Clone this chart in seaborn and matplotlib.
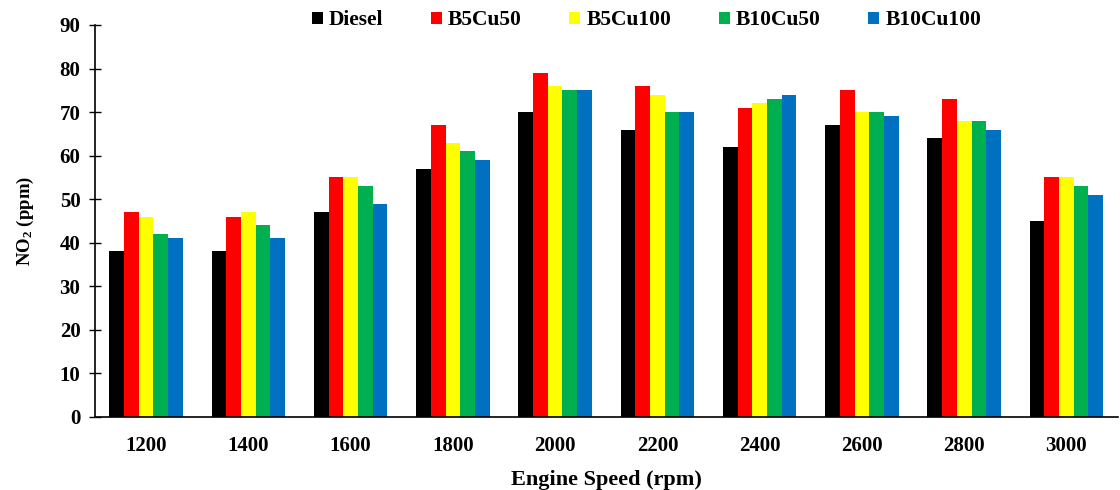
import matplotlib
matplotlib.use("Agg")
import matplotlib.pyplot as plt
import seaborn as sns
import pandas as pd
import numpy as np

speeds = ["1200", "1400", "1600", "1800", "2000", "2200", "2400", "2600", "2800", "3000"]
fuels = ["Diesel", "B5Cu50", "B5Cu100", "B10Cu50", "B10Cu100"]
diesel = [38, 38, 47, 57, 70, 66, 62, 67, 64, 45]
b5cu50 = [47, 46, 55, 67, 79, 76, 71, 75, 73, 55]
b5cu100 = [46, 47, 55, 63, 76, 74, 72, 70, 68, 55]
b10cu50 = [42, 44, 53, 61, 75, 70, 73, 70, 68, 53]
b10cu100 = [41, 41, 49, 59, 75, 70, 74, 69, 66, 51]
colors = ["#000000", "#FF0000", "#FFFF00", "#00B050", "#0070C0"]

series = [diesel, b5cu50, b5cu100, b10cu50, b10cu100]
rows = []
for f, vals in zip(fuels, series):
    for s, v in zip(speeds, vals):
        rows.append({"Speed": s, "Fuel": f, "NO2": v})
df = pd.DataFrame(rows)

sns.set_theme(style="white")
plt.rcParams['font.family'] = ['Liberation Serif', 'DejaVu Serif']
plt.rcParams['font.weight'] = 'bold'
plt.rcParams['mathtext.default'] = 'regular'
plt.rcParams['text.color'] = 'black'
plt.rcParams['axes.labelcolor'] = 'black'
plt.rcParams['xtick.color'] = 'black'
plt.rcParams['ytick.color'] = 'black'

fig = plt.figure(figsize=(11.2, 4.9), dpi=100)
ax = fig.add_axes([0.0848, 0.149, 0.913, 0.800])

sns.barplot(data=df, x="Speed", y="NO2", hue="Fuel", order=speeds, hue_order=fuels,
            palette=colors, width=0.72, linewidth=0, saturation=1, ax=ax)

ax.set_ylim(0, 90)
ax.set_yticks(np.arange(0, 91, 10))
ax.set_xlim(-0.5, len(speeds) - 0.5)
ax.set_xticks(np.arange(-0.5, len(speeds), 1.0), minor=True)
ax.tick_params(axis='x', which='major', length=0, pad=14, labelsize=15)
ax.tick_params(axis='x', which='minor', length=8, direction='inout', width=1.2, color='black')
ax.tick_params(axis='y', which='major', length=9, direction='inout', width=1.0, color='black',
               labelsize=15, pad=6, left=True)
for lab in ax.get_xticklabels() + ax.get_yticklabels():
    lab.set_fontweight('bold')

for sp in ['top', 'right']:
    ax.spines[sp].set_visible(False)
for sp in ['left', 'bottom']:
    ax.spines[sp].set_color('black')
    ax.spines[sp].set_linewidth(1.2)

ax.set_xlabel("Engine Speed (rpm)", fontsize=16, fontweight='bold', labelpad=10)
ax.set_ylabel("NO$_2$ (ppm)", fontsize=13.5, fontweight='bold', labelpad=17)

handles, labels = ax.get_legend_handles_labels()
ax.legend(handles, labels, loc='center left', bbox_to_anchor=(0.212, 1.012), ncol=5, frameon=False,
          prop={'family': 'Liberation Serif', 'weight': 'bold', 'size': 15.5},
          handlelength=0.5, handleheight=0.5, handletextpad=0.3, columnspacing=2.2,
          borderaxespad=0, borderpad=0)

fig.savefig("out.png", dpi=100)
